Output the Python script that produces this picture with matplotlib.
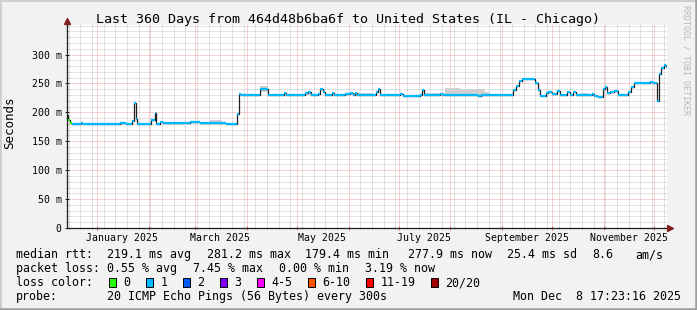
import matplotlib
matplotlib.use("Agg")
from datetime import datetime, timedelta

import matplotlib.dates as mdates
import matplotlib.pyplot as plt
import numpy as np
from matplotlib.lines import Line2D
from matplotlib.patches import Rectangle
from matplotlib.ticker import MultipleLocator

# Time window: 360 days ending at render time
end_time = datetime(2025, 12, 8, 17, 23, 16)
start_time = end_time - timedelta(days=360)

# Median rtt (ms) as a step series: change points in days since start
median_days = [
    0.0, 0.9, 1.8, 3.0, 4.5, 8.4, 9.9, 32.1, 35.7, 39.3, 40.5, 41.4, 42.3, 44.1,
    50.7, 52.8, 53.7, 54.9, 56.1, 57.9, 62.7, 74.1, 80.1, 88.5, 92.1, 95.7, 99.9,
    102.0, 103.2, 104.7, 116.1, 120.9, 130.5, 131.7, 143.1, 144.9, 146.7, 150.9,
    152.1, 153.9, 155.1, 159.3, 160.5, 167.1, 170.1, 171.9, 173.1, 174.3, 185.7,
    186.9, 188.1, 200.1, 201.9, 206.1, 212.1, 213.3, 214.5, 224.1, 225.9, 246.9,
    248.7, 267.9, 269.7, 271.5, 273.3, 281.1, 282.9, 284.1, 287.7, 288.9, 291.3,
    294.3, 296.1, 300.3, 302.1, 303.9, 305.7, 315.3, 316.5, 318.9, 321.9, 323.1,
    324.3, 326.1, 328.5, 330.9, 336.9, 338.7, 340.5, 350.1, 351.9, 354.0, 355.2,
    356.7, 358.5, 359.4,
]
median_ms = [
    195, 186, 181, 179.5, 180, 181, 180, 181, 180, 185, 217, 189, 179.5, 180,
    186, 199, 180, 179.5, 183, 182, 181, 183, 181, 182, 181, 179.5, 180,
    197, 231, 230, 240, 230, 233, 230, 233, 236, 230, 231,
    240, 236, 230, 234, 230, 231, 233, 230, 233, 230, 236,
    241, 230, 231, 228, 229, 230, 238, 230, 232, 230, 228,
    230, 238, 246, 254, 257, 250, 238, 229, 234, 236, 231,
    237, 230, 236, 230, 236, 230, 232, 229, 226, 240, 244,
    233, 236, 237, 230, 236, 244, 251, 253, 250, 219.6, 266,
    276, 281.2, 277.9,
]
# loss bin index (into loss_names) of each step
median_loss = [0, 0, 0] + [1] * (len(median_days) - 3)

# Smoke (rtt spread) patches: start day, end day, low ms, high ms
smoke_start = [86.0, 116.1, 143.0, 171.9, 214.5, 227.0, 236.0, 251.0, 308.0]
smoke_end = [93.0, 120.9, 147.0, 184.0, 227.0, 236.0, 251.0, 254.0, 313.0]
smoke_low = [180, 236, 230, 230, 229, 230, 230, 230, 230]
smoke_high = [187, 245, 235, 234, 234, 242, 240, 236, 234]

# Axis labels
month_labels = ["January 2025", "March 2025", "May 2025", "July 2025",
                "September 2025", "November 2025"]
label_months = [(2025, 1), (2025, 3), (2025, 5), (2025, 7), (2025, 9), (2025, 11)]
y_ticks = [0, 50, 100, 150, 200, 250, 300]
y_tick_labels = ["0", "50 m", "100 m", "150 m", "200 m", "250 m", "300 m"]

# Legend
loss_names = ["0", "1", "2", "3", "4-5", "6-10", "11-19", "20/20"]
loss_colors = ["#26ff00", "#00b8ff", "#0059ff", "#7e00ff", "#ff00ff",
               "#ff5500", "#ff0000", "#a10000"]
rtt_stats = ["219.1 ms avg", "281.2 ms max", "179.4 ms min", "277.9 ms now",
             "25.4 ms sd", "8.6", "am/s"]
loss_stats = ["0.55 % avg", "7.45 % max", "0.00 % min", "3.19 % now"]
probe_text = "20 ICMP Echo Pings (56 Bytes) every 300s"
stamp_text = "Mon Dec  8 17:23:16 2025"
title = "Last 360 Days from 464d48b6ba6f to United States (IL - Chicago)"

# rrdtool default colours
BACK = "#f2f2f2"
SHADE_A = "#cfcfcf"
SHADE_B = "#9e9e9e"
GRID = "#8f8f8f"
MGRID = "#de4f4f"
ARROW = "#801f1f"
AXIS = "#1f1f1f"
MONO = "DejaVu Sans Mono"

plt.rcParams["font.family"] = MONO
plt.rcParams["lines.scale_dashes"] = False

W, H = 697, 310
fig = plt.figure(figsize=(W / 100, H / 100), dpi=100, facecolor=BACK)


def fx(px):
    return px / W


def fy(py):
    return 1 - py / H


# plot area in pixels
left, right, bottom, top = 66.5, 666.5, 228.0, 25.3
ax = fig.add_axes([fx(left), fy(bottom), fx(right - left), (bottom - top) / H])
ax.set_facecolor("white")
for s in ax.spines.values():
    s.set_visible(False)

x0 = mdates.date2num(start_time)
x1 = mdates.date2num(end_time)
ax.set_xlim(x0, x1)
ax.set_ylim(0, 350.5)

# grid
ax.xaxis.set_major_locator(mdates.MonthLocator())
ax.xaxis.set_minor_locator(mdates.WeekdayLocator(byweekday=mdates.SU))
ax.yaxis.set_major_locator(MultipleLocator(50))
ax.yaxis.set_minor_locator(MultipleLocator(10))
ax.grid(which="minor", color=GRID, alpha=0.6, lw=0.6, dashes=(0.72, 0.72))
ax.grid(which="major", color=MGRID, alpha=0.6, lw=0.6, dashes=(0.72, 0.72))
ax.set_axisbelow(True)

ax.set_yticks(y_ticks)
ax.set_yticklabels(y_tick_labels)
ax.tick_params(axis="y", which="major", length=3, direction="inout", width=0.7,
               color=AXIS, labelsize=7.1, pad=2)
ax.tick_params(axis="y", which="minor", length=2, direction="inout", width=0.5,
               color=GRID)
ax.tick_params(axis="x", which="major", length=3, direction="inout", width=0.6,
               color=MGRID, labelbottom=False)
ax.tick_params(axis="x", which="minor", length=2, direction="inout", width=0.5,
               color=GRID)

# month labels centred half a month after the month start
for text, (yr, mo) in zip(month_labels, label_months):
    xm = mdates.date2num(datetime(yr, mo, 1) + timedelta(days=15))
    ax.text(xm, -0.048, text, transform=ax.get_xaxis_transform(),
            ha="center", va="center", fontsize=7.1)

# smoke
for s0, s1, lo, hi in zip(smoke_start, smoke_end, smoke_low, smoke_high):
    ax.fill_between([x0 + s0, x0 + s1], [lo, lo], [hi, hi],
                    color="#d0d0d0", lw=0, step="post", zorder=2)

# median line: dark step, then loss coloured horizontal segments
xs = x0 + np.array(median_days)
xe = np.append(xs[1:], x1)
ax.step(np.append(xs, x1), np.append(median_ms, median_ms[-1]), where="post",
        color="#202020", lw=0.9, zorder=3)
ax.hlines(median_ms, xs, xe, colors=[loss_colors[i] for i in median_loss],
          lw=1.6, capstyle="butt", zorder=4)

# axes with arrows
ax.plot([0, 0], [0, 1.02], transform=ax.transAxes, color=AXIS, lw=0.9,
        clip_on=False, zorder=5)
ax.plot([0, 1.006], [0, 0], transform=ax.transAxes, color=AXIS, lw=0.9,
        clip_on=False, zorder=5)
ax.plot([0], [1.02], marker="^", ms=4, color=ARROW, transform=ax.transAxes,
        clip_on=False, zorder=6)
ax.plot([1.006], [0], marker=">", ms=4, color=ARROW, transform=ax.transAxes,
        clip_on=False, zorder=6)

# title, y label, watermark
fig.text(fx(348), fy(19.5), title, ha="center", va="center", fontsize=9.6)
fig.text(fx(10), fy(123), "Seconds", rotation=90, ha="center", va="center",
         fontsize=9)
fig.text(fx(686), fy(5), "RRDTOOL / TOBI OETIKER", rotation=270, ha="center",
         va="top", fontsize=6, color="#b8b8b8")

# legend block
FS = 8.35
line_y = [254.5, 268.5, 282.5, 296.5]
fig.text(fx(16), fy(line_y[0]), "median rtt:", va="center", fontsize=FS)
for px, txt in zip([107, 207.3, 305, 407.7, 506.7, 592.7, 635], rtt_stats):
    fig.text(fx(px), fy(line_y[0]), txt, va="center", fontsize=FS)
fig.text(fx(16), fy(line_y[1]), "packet loss:", va="center", fontsize=FS)
for px, txt in zip([107, 193, 279, 365], loss_stats):
    fig.text(fx(px), fy(line_y[1]), txt, va="center", fontsize=FS)
fig.text(fx(16), fy(line_y[2]), "loss color:", va="center", fontsize=FS)
bx = 109.0
for name, col in zip(loss_names, loss_colors):
    fig.add_artist(Rectangle((fx(bx), fy(line_y[2] + 4.5)), fx(7), 9 / H,
                             facecolor=col, edgecolor="black", lw=0.7,
                             transform=fig.transFigure))
    fig.text(fx(bx + 14.5), fy(line_y[2]), name, va="center", fontsize=FS)
    bx = bx + 14.5 + 7.0 * len(name) + 15.5
fig.text(fx(16), fy(line_y[3]), "probe:", va="center", fontsize=FS)
fig.text(fx(107), fy(line_y[3]), probe_text, va="center", fontsize=FS)
fig.text(fx(512.7), fy(line_y[3]), stamp_text, va="center", fontsize=FS)

# 3d frame
fig.add_artist(Line2D([0, 1], [fy(0.7), fy(0.7)], color=SHADE_A, lw=1.4))
fig.add_artist(Line2D([fx(0.7), fx(0.7)], [0, 1], color=SHADE_A, lw=1.4))
fig.add_artist(Line2D([0, 1], [fy(309), fy(309)], color=SHADE_B, lw=1.8))
fig.add_artist(Line2D([fx(696), fx(696)], [0, 1], color=SHADE_B, lw=1.8))

fig.savefig("out.png", dpi=100, facecolor=BACK)
